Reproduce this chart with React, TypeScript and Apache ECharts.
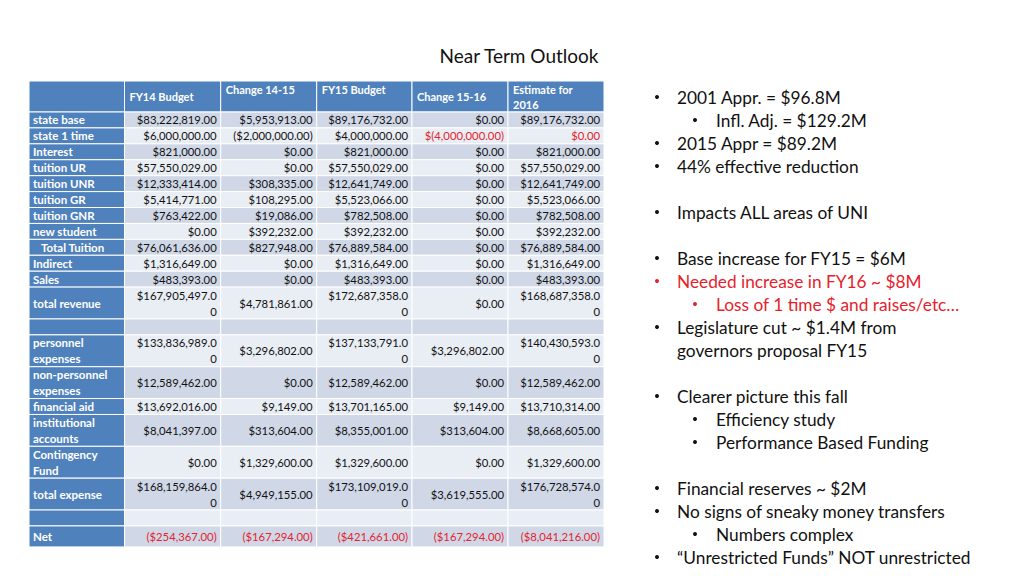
import React, { useEffect, useRef } from "react";
import * as echarts from "echarts";

const title = "Near Term Outlook";

const columnHeaders: string[][] = [["FY14 Budget"], ["Change 14-15"], ["FY15 Budget"], ["Change 15-16"], ["Estimate for", "2016"]];
const headerAnchor = ["middle", "top", "top", "middle", "top"];

const rowLabels: string[][] = [
  ["state base"], ["state 1 time"], ["Interest"], ["tuition UR"], ["tuition UNR"], ["tuition GR"],
  ["tuition GNR"], ["new student"], ["   Total Tuition"], ["Indirect"], ["Sales"], ["total revenue"], [],
  ["personnel", "expenses"], ["non-personnel", "expenses"], ["financial aid"], ["institutional", "accounts"],
  ["Contingency", "Fund"], ["total expense"], [], ["Net"],
];

const fy14Budget = [83222819, 6000000, 821000, 57550029, 12333414, 5414771, 763422, 0, 76061636, 1316649, 483393, 167905497, null, 133836989, 12589462, 13692016, 8041397, 0, 168159864, null, -254367];
const change1415 = [5953913, -2000000, 0, 0, 308335, 108295, 19086, 392232, 827948, 0, 0, 4781861, null, 3296802, 0, 9149, 313604, 1329600, 4949155, null, -167294];
const fy15Budget = [89176732, 4000000, 821000, 57550029, 12641749, 5523066, 782508, 392232, 76889584, 1316649, 483393, 172687358, null, 137133791, 12589462, 13701165, 8355001, 1329600, 173109019, null, -421661];
const change1516 = [0, -4000000, 0, 0, 0, 0, 0, 0, 0, 0, 0, 0, null, 3296802, 0, 9149, 313604, 0, 3619555, null, -167294];
const estimate2016 = [89176732, 0, 821000, 57550029, 12641749, 5523066, 782508, 392232, 76889584, 1316649, 483393, 168687358, null, 140430593, 12589462, 13710314, 8668605, 1329600, 176728574, null, -8041216];

// [row, col] cells shown in red; cells whose $ sits outside the parentheses
const redCells = [[1, 3], [1, 4], [20, 0], [20, 1], [20, 2], [20, 3], [20, 4]];
const dollarOutsideCells = [[1, 3]];

const bullets: ({ text: string; level: number; red?: boolean; noBullet?: boolean } | null)[] = [
  { text: "2001 Appr. = $96.8M", level: 0 },
  { text: "Infl. Adj. = $129.2M", level: 1 },
  { text: "2015 Appr = $89.2M", level: 0 },
  { text: "44% effective reduction", level: 0 },
  null,
  { text: "Impacts ALL areas of UNI", level: 0 },
  null,
  { text: "Base increase for FY15 = $6M", level: 0 },
  { text: "Needed increase in FY16 ~ $8M", level: 0, red: true },
  { text: "Loss of 1 time $ and raises/etc…", level: 1, red: true },
  { text: "Legislature cut ~ $1.4M from", level: 0 },
  { text: "governors proposal FY15", level: 0, noBullet: true },
  null,
  { text: "Clearer picture this fall", level: 0 },
  { text: "Efficiency study", level: 1 },
  { text: "Performance Based Funding", level: 1 },
  null,
  { text: "Financial reserves ~ $2M", level: 0 },
  { text: "No signs of sneaky money transfers", level: 0 },
  { text: "Numbers complex", level: 1 },
  { text: "\u201CUnrestricted Funds\u201D NOT unrestricted", level: 0 },
];

const columns = [fy14Budget, change1415, fy15Budget, change1516, estimate2016];

function hasCell(list: number[][], r: number, c: number) {
  return list.some((p) => p[0] === r && p[1] === c);
}

function fmt(v: number, dollarOutside: boolean): string {
  const s = Math.abs(v).toLocaleString("en-US", { minimumFractionDigits: 2, maximumFractionDigits: 2 });
  if (v < 0) return dollarOutside ? "$(" + s + ")" : "($" + s + ")";
  return "$" + s;
}

const BLUE = "#4f81bd";
const DARK = "#d0d8e8";
const LIGHT = "#e9edf4";
const RED = "#e5222b";
const FONT = "Lato";

function buildGraphics() {
  const els: any[] = [];
  const colX = [29, 124.5, 220.7, 316.7, 412, 508, 604];
  const unit = 15.92;
  const top = 81;
  const headerH = 31;

  els.push({
    type: "text",
    style: { text: title, x: 519, y: 55, fill: "#111", font: `19px ${FONT}`, align: "center", verticalAlign: "middle", textAlign: "center", textVerticalAlign: "middle" },
  });

  // header
  for (let c = 0; c < 6; c++) {
    els.push({
      type: "rect",
      shape: { x: colX[c], y: top, width: colX[c + 1] - colX[c], height: headerH },
      style: { fill: BLUE, stroke: "#fff", lineWidth: 1 },
    });
  }
  columnHeaders.forEach((lines, c) => {
    lines.forEach((t, i) => {
      const y = headerAnchor[c] === "middle" ? top + headerH / 2 : top + 8 + i * unit;
      els.push({
        type: "text",
        style: { text: t, x: colX[c + 1] + 5, y, fill: "#fff", font: `bold 11px ${FONT}`, align: "left", verticalAlign: "middle", textAlign: "left", textVerticalAlign: "middle" },
      });
    });
  });

  let y = top + headerH;
  rowLabels.forEach((label, r) => {
    const cellLines = columns.map((col, c) => {
      const v = col[r];
      if (v === null || v === undefined) return [] as string[];
      const s = fmt(v, hasCell(dollarOutsideCells, r, c));
      // Excel wraps the hundred-million figures onto a second line
      return Math.abs(v) >= 1e8 ? [s.slice(0, 14), s.slice(14)] : [s];
    });
    const nLines = Math.max(1, label.length, ...cellLines.map((l) => l.length));
    const isLast = r === rowLabels.length - 1;
    const h = isLast ? 21 : nLines * unit;
    const fill = r % 2 === 0 ? DARK : LIGHT;
    for (let c = 0; c < 6; c++) {
      els.push({
        type: "rect",
        shape: { x: colX[c], y, width: colX[c + 1] - colX[c], height: h },
        style: { fill: c === 0 ? BLUE : fill, stroke: "#fff", lineWidth: 1 },
      });
    }
    const twoLineLabel = label.length === 2;
    label.forEach((t, i) => {
      const ty = twoLineLabel ? y + 8 + i * unit : y + h / 2;
      els.push({
        type: "text",
        style: { text: t, x: colX[0] + 4, y: ty, fill: "#fff", font: `bold 11.5px ${FONT}`, align: "left", verticalAlign: "middle", textAlign: "left", textVerticalAlign: "middle", whiteSpace: "pre" },
      });
    });
    cellLines.forEach((lines, c) => {
      const red = hasCell(redCells, r, c);
      lines.forEach((t, i) => {
        const ty = lines.length === 2 ? y + 8 + i * unit : y + h / 2;
        els.push({
          type: "text",
          style: { text: t, x: colX[c + 2] - 4, y: ty, fill: red ? RED : "#111", font: `11.3px ${FONT}`, align: "right", verticalAlign: "middle", textAlign: "right", textVerticalAlign: "middle" },
        });
      });
    });
    y += h;
  });

  // bullets
  const by0 = 97;
  const step = 23;
  bullets.forEach((b, i) => {
    if (!b) return;
    const yy = by0 + i * step;
    const bx = b.level === 0 ? 655 : 693;
    const tx = b.level === 0 ? 677 : 716;
    const color = b.red ? RED : "#111";
    if (!b.noBullet) {
      els.push({
        type: "circle",
        shape: { cx: bx + 2, cy: yy, r: 2 },
        style: { fill: color },
      });
    }
    els.push({
      type: "text",
      style: { text: b.text, x: tx, y: yy, fill: color, font: `17.3px ${FONT}`, align: "left", verticalAlign: "middle", textAlign: "left", textVerticalAlign: "middle" },
    });
  });

  return els;
}

export default function App() {
  const ref = useRef<HTMLDivElement>(null);
  useEffect(() => {
    if (!ref.current) return;
    const chart = echarts.init(ref.current, null, { renderer: "svg" });
    chart.setOption({
      animation: false,
      backgroundColor: "#ffffff",
      graphic: { elements: buildGraphics() },
    });
    return () => chart.dispose();
  }, []);
  return <div ref={ref} style={{ position: "fixed", left: 0, top: 0, width: 1024, height: 576 }} />;
}
